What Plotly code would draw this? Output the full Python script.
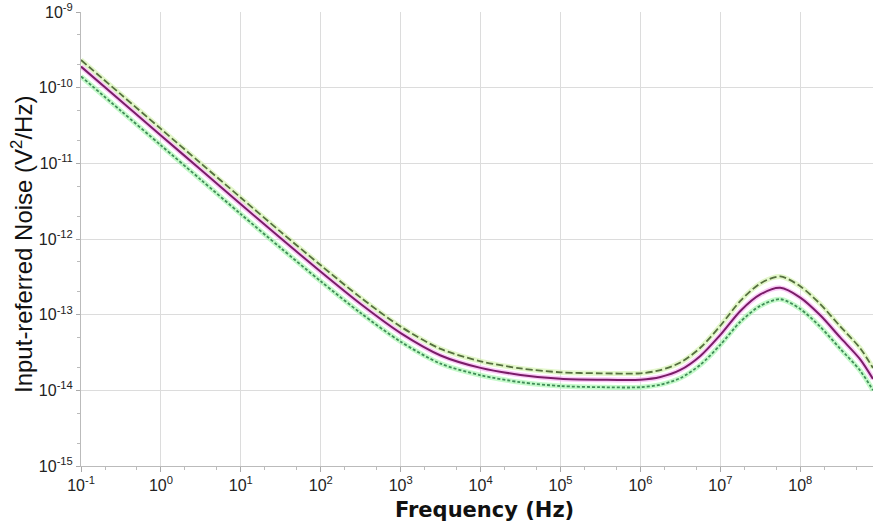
import plotly.graph_objects as go

# Frequency points (Hz)
freq = [0.1, 0.316, 1, 3.16, 10, 31.6, 100, 316, 1000, 3160, 1e4, 3.16e4, 1e5, 3.16e5,
        1e6, 1.78e6, 3.16e6, 5.62e6, 1e7, 1.78e7, 3.16e7, 5.62e7, 1e8, 1.78e8,
        3.16e8, 5.62e8, 8.13e8]

# Input-referred noise (V^2/Hz)
noise_nominal = [1.90e-10, 6.67e-11, 2.34e-11, 8.2e-12, 2.88e-12, 1.02e-12, 3.68e-13,
                 1.38e-13, 5.7e-14, 2.89e-14, 1.98e-14, 1.6e-14, 1.42e-14, 1.38e-14,
                 1.38e-14, 1.50e-14, 1.86e-14, 2.85e-14, 5.41e-14, 1.12e-13, 1.85e-13,
                 2.26e-13, 1.68e-13, 9.8e-14, 5.0e-14, 2.57e-14, 1.41e-14]
noise_upper = [2.32e-10, 8.14e-11, 2.85e-11, 1.0e-11, 3.51e-12, 1.24e-12, 4.49e-13,
               1.68e-13, 6.95e-14, 3.53e-14, 2.42e-14, 1.95e-14, 1.73e-14, 1.68e-14,
               1.68e-14, 1.85e-14, 2.33e-14, 3.65e-14, 7.14e-14, 1.52e-13, 2.59e-13,
               3.2e-13, 2.37e-13, 1.38e-13, 7.0e-14, 3.6e-14, 1.97e-14]
noise_lower = [1.41e-10, 4.94e-11, 1.73e-11, 6.07e-12, 2.13e-12, 7.6e-13, 2.76e-13,
               1.05e-13, 4.39e-14, 2.25e-14, 1.58e-14, 1.28e-14, 1.14e-14, 1.10e-14,
               1.10e-14, 1.19e-14, 1.45e-14, 2.17e-14, 4.0e-14, 8.06e-14, 1.31e-13,
               1.60e-13, 1.19e-13, 6.9e-14, 3.55e-14, 1.82e-14, 1.0e-14]

x_exponents = [-1, 0, 1, 2, 3, 4, 5, 6, 7, 8]
y_exponents = [-15, -14, -13, -12, -11, -10, -9]
x_tick_vals = [10.0 ** e for e in x_exponents]
x_tick_text = ["10<sup>%d</sup>" % e for e in x_exponents]
y_tick_vals = [10.0 ** e for e in y_exponents]
y_tick_text = ["10<sup>%d</sup>" % e for e in y_exponents]

fig = go.Figure()

def add_curve(y, color, halo, dash, width=1.8):
    fig.add_trace(go.Scatter(x=freq, y=y, mode="lines", hoverinfo="skip", showlegend=False,
                             line=dict(color=halo, width=5, shape="spline", smoothing=0.8)))
    fig.add_trace(go.Scatter(x=freq, y=y, mode="lines", showlegend=False,
                             line=dict(color=color, width=width, dash=dash,
                                       shape="spline", smoothing=0.8)))

add_curve(noise_lower, "#3f8c58", "rgba(140,245,150,0.5)", "3px,2px")
add_curve(noise_upper, "#55703f", "rgba(200,240,150,0.5)", "7px,3px")
add_curve(noise_nominal, "#7a1c68", "rgba(245,160,240,0.55)", "solid", 2)

tickfont = dict(family="Liberation Sans, Arial, sans-serif", size=16, color="#222222")
axis_common = dict(type="log", tickfont=tickfont, showgrid=True, gridcolor="#dcdcdc",
                   gridwidth=1, showline=True, linecolor="#bbbbbb", linewidth=1,
                   ticks="outside", tickcolor="#aaaaaa", zeroline=False, automargin=False,
                   minor=dict(ticks="outside", ticklen=3, tickcolor="#bbbbbb", showgrid=False))
fig.update_xaxes(range=[-1.0, 8.91], tickvals=x_tick_vals, ticktext=x_tick_text,
                 ticklen=5, **axis_common)
fig.update_yaxes(range=[-15, -9], tickvals=y_tick_vals, ticktext=y_tick_text,
                 ticklen=4, **axis_common)

fig.update_layout(
    width=873, height=530,
    margin=dict(l=81, r=0, t=12, b=64, autoexpand=False),
    paper_bgcolor="white", plot_bgcolor="white",
    annotations=[
        dict(text="<b>Frequency (Hz)</b>", xref="paper", yref="paper", x=(485 - 81) / 792,
             y=-(510 - 466) / 454, xanchor="center", yanchor="middle", showarrow=False,
             font=dict(family="DejaVu Sans, Arial, sans-serif", size=21, color="#111111")),
        dict(text="Input-referred Noise (V<sup>2</sup>/Hz)", xref="paper", yref="paper",
             x=(22 - 81) / 792, y=(466 - 245) / 454, xanchor="center", yanchor="middle",
             textangle=-90, showarrow=False,
             font=dict(family="Liberation Sans, Arial, sans-serif", size=24, color="#111111")),
    ],
)

fig.write_html("out.html", config={"displayModeBar": False},
               post_script="document.body.style.margin='0';document.body.style.overflow='hidden';")
